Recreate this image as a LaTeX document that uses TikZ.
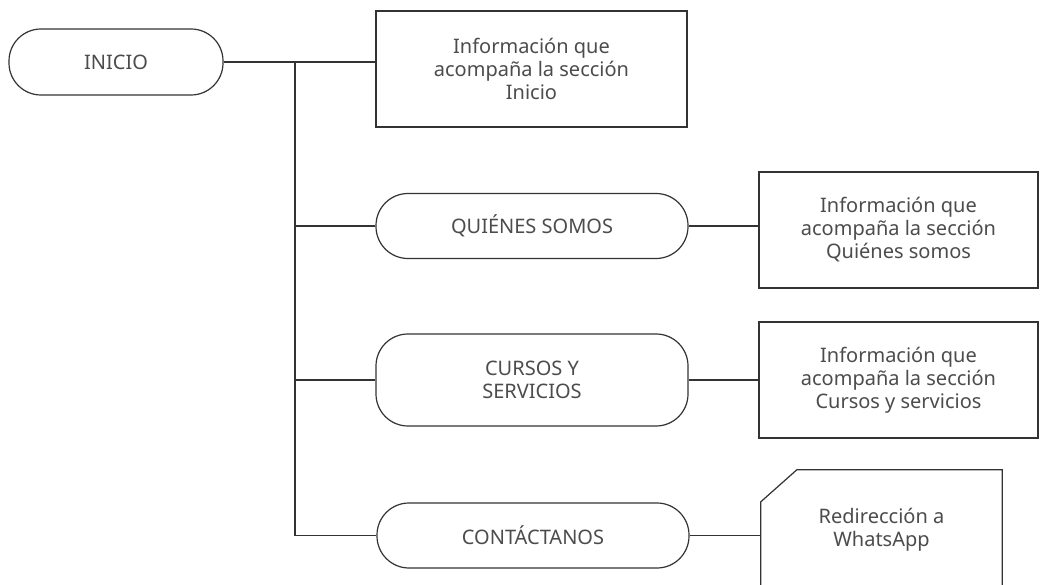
\documentclass[tikz,border=0pt]{standalone}
\usepackage{fontspec}
\setmainfont{Noto Sans}
\begin{document}
\begin{tikzpicture}[x=1pt,y=-1pt,
  line/.style={draw=black!80,line width=1.2pt},
  txt/.style={text=black!70,font=\fontsize{20}{23}\selectfont,align=center,inner sep=0pt},
  pill/.style={txt,line,rounded corners=32pt},
  infobox/.style={txt,line}]
\clip (0,0) rectangle (1058,585);
\fill[white] (0,0) rectangle (1058,585);
% main nodes
\node[pill,minimum width=214pt,minimum height=66pt] (inicio) at (116,62) {INICIO};
\node[pill,minimum width=312pt,minimum height=65pt] (quienes) at (532,226) {QUIÉNES SOMOS};
\node[pill,minimum width=312pt,minimum height=92pt] (cursos) at (532,380) {CURSOS Y\\SERVICIOS};
\node[pill,minimum width=312pt,minimum height=65pt] (contacto) at (533,535.5) {CONTÁCTANOS};
% info boxes
\node[infobox,minimum width=311pt,minimum height=116pt] (box1) at (531.5,69) {Información que\\acompaña la sección\\Inicio};
\node[infobox,minimum width=279pt,minimum height=116pt] (box2) at (898.5,230) {Información que\\acompaña la sección\\Quiénes somos};
\node[infobox,minimum width=279pt,minimum height=116pt] (box3) at (898.5,380) {Información que\\acompaña la sección\\Cursos y servicios};
\node[txt,minimum width=241pt,minimum height=120pt] (whats) at (881.5,530) {Redirección a\\WhatsApp};
\draw[line] ([yshift=-32pt]whats.north west) -- ([xshift=36pt]whats.north west) -- (whats.north east) -- (whats.south east) -- (whats.south west) -- cycle;
% connectors
\coordinate (t0) at (295,0 |- inicio.east);
\draw[line] (inicio.east) -- (inicio.east -| box1.west);
\draw[line] (t0) |- (contacto.west);
\draw[line] (t0 |- quienes.west) -- (quienes.west);
\draw[line] (t0 |- cursos.west) -- (cursos.west);
\draw[line] (quienes.east) -- (quienes.east -| box2.west);
\draw[line] (cursos.east) -- (cursos.east -| box3.west);
\draw[line] (contacto.east) -- (contacto.east -| whats.west);
\end{tikzpicture}
\end{document}
